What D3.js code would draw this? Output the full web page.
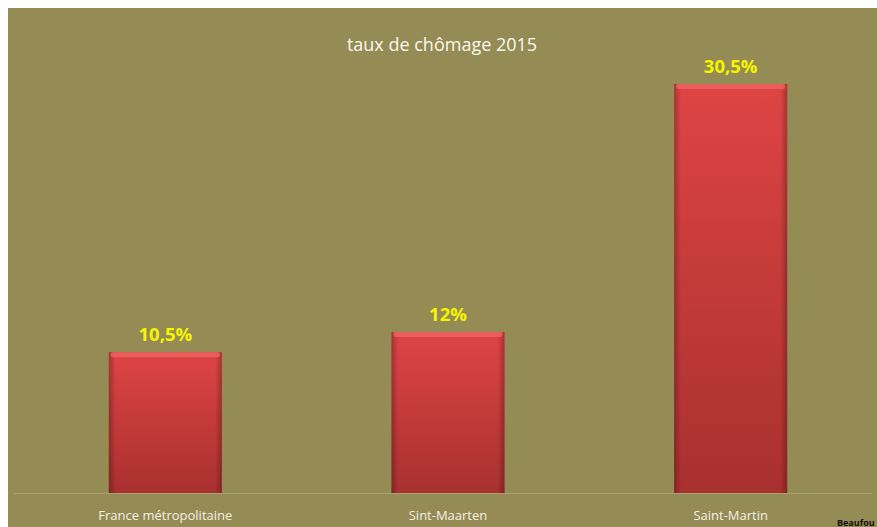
<!DOCTYPE html>
<html>
<head>
<meta charset="utf-8">
<script src="https://cdn.jsdelivr.net/npm/d3@7.9.0/dist/d3.min.js"></script>
<style>
  html, body { margin: 0; padding: 0; background: #fff; }
  svg { display: block; }
</style>
</head>
<body>
<svg id="chart" width="877" height="527"></svg>
<script>
// Data
const categories = ['France métropolitaine', 'Sint-Maarten', 'Saint-Martin'];
const values = [10.5, 12, 30.5];
const valueLabels = ['10,5%', '12%', '30,5%'];
const title = 'taux de chômage 2015';

const width = 877, height = 527;
const svg = d3.select('#chart');

// background panel
svg.append('rect')
  .attr('x', 8).attr('y', 8)
  .attr('width', width - 8).attr('height', height - 8)
  .attr('fill', '#958b55');

const defs = svg.append('defs');
const grad = defs.append('linearGradient')
  .attr('id', 'barGrad').attr('x1', 0).attr('y1', 0).attr('x2', 0).attr('y2', 1);
grad.append('stop').attr('offset', '0%').attr('stop-color', '#de4444');
grad.append('stop').attr('offset', '100%').attr('stop-color', '#a8302f');

const side = defs.append('linearGradient')
  .attr('id', 'sideGrad').attr('x1', 0).attr('y1', 0).attr('x2', 1).attr('y2', 0);
side.append('stop').attr('offset', '0%').attr('stop-color', '#000').attr('stop-opacity', 0.25);
side.append('stop').attr('offset', '6%').attr('stop-color', '#000').attr('stop-opacity', 0);
side.append('stop').attr('offset', '94%').attr('stop-color', '#000').attr('stop-opacity', 0);
side.append('stop').attr('offset', '100%').attr('stop-color', '#000').attr('stop-opacity', 0.25);

// Scales
const baseline = 493;
const x = d3.scaleBand().domain(categories).range([24, 872]).paddingInner(0.6).paddingOuter(0.3);
const y = d3.scaleLinear().domain([0, 30.5]).range([baseline, 84]);

// baseline
svg.append('line')
  .attr('x1', 14).attr('x2', 872)
  .attr('y1', baseline + 0.5).attr('y2', baseline + 0.5)
  .attr('stroke', '#aaa270').attr('stroke-width', 1);

const bars = svg.selectAll('g.bar')
  .data(values)
  .join('g')
  .attr('class', 'bar');

bars.append('rect')
  .attr('x', (d, i) => x(categories[i]))
  .attr('y', d => y(d))
  .attr('width', x.bandwidth())
  .attr('height', d => baseline - y(d))
  .attr('fill', 'url(#barGrad)');

bars.append('rect')
  .attr('x', (d, i) => x(categories[i]))
  .attr('y', d => y(d))
  .attr('width', x.bandwidth())
  .attr('height', d => baseline - y(d))
  .attr('fill', 'url(#sideGrad)');

// top bevel highlight
bars.append('rect')
  .attr('x', (d, i) => x(categories[i]) + 2)
  .attr('y', d => y(d))
  .attr('width', x.bandwidth() - 4)
  .attr('height', 5)
  .attr('rx', 2)
  .attr('fill', '#f06a6a')
  .attr('opacity', 0.7);

// value labels
svg.selectAll('text.val')
  .data(values)
  .join('text')
  .attr('class', 'val')
  .attr('x', (d, i) => x(categories[i]) + x.bandwidth() / 2)
  .attr('y', d => y(d) - 11)
  .attr('text-anchor', 'middle')
  .attr('font-family', 'Open Sans, sans-serif')
  .attr('font-weight', 'bold')
  .attr('font-size', 18.5)
  .attr('fill', '#f5f500')
  .text((d, i) => valueLabels[i]);

// category labels
svg.selectAll('text.cat')
  .data(categories)
  .join('text')
  .attr('class', 'cat')
  .attr('x', d => x(d) + x.bandwidth() / 2)
  .attr('y', 520)
  .attr('text-anchor', 'middle')
  .attr('font-family', 'Open Sans, sans-serif')
  .attr('font-size', 13)
  .attr('fill', '#f4f1e4')
  .text(d => d);

// title
svg.append('text')
  .attr('x', 442).attr('y', 51)
  .attr('text-anchor', 'middle')
  .attr('font-family', 'Open Sans, sans-serif')
  .attr('font-size', 18)
  .attr('fill', '#fbf9ee')
  .text(title);

// cropped source note (cut off at the right edge in the original)
svg.append('text')
  .attr('x', 837).attr('y', 526)
  .attr('font-family', 'Open Sans, sans-serif')
  .attr('font-size', 9)
  .attr('font-weight', 'bold')
  .attr('fill', '#111')
  .text('Beaufou');
</script>
</body>
</html>
